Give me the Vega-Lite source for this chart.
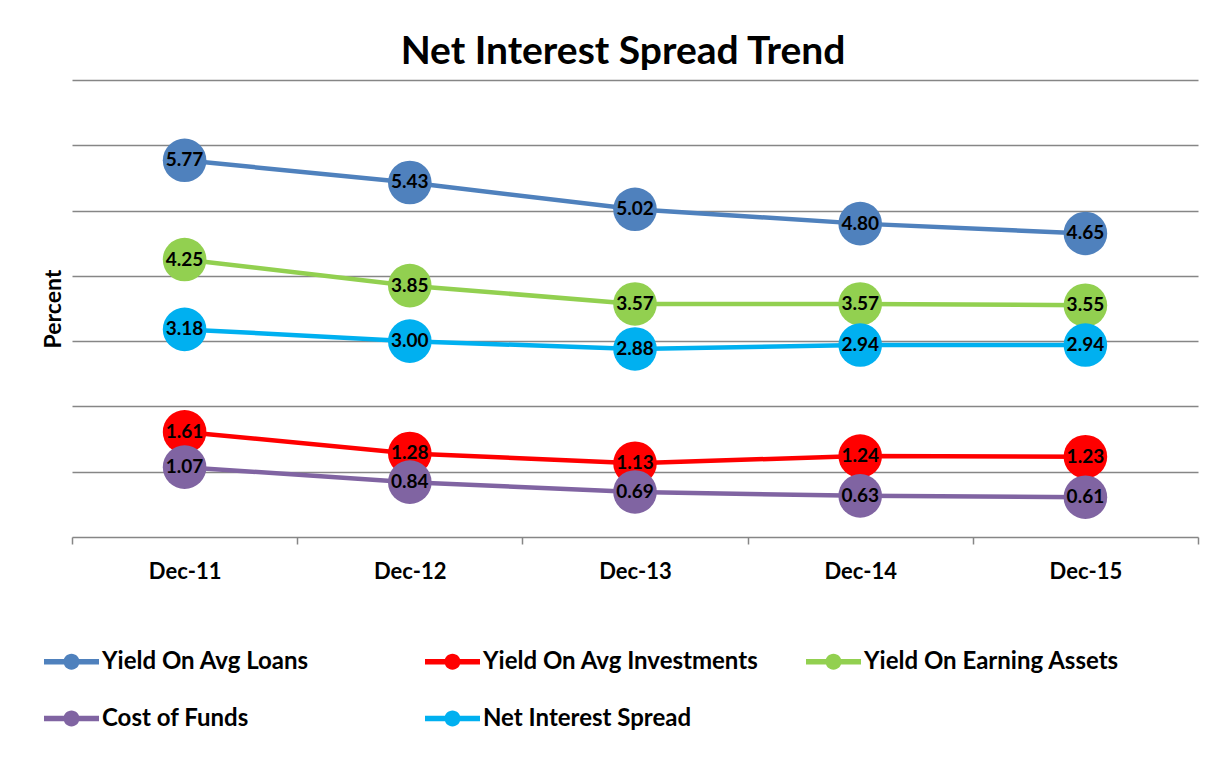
{
  "$schema": "https://vega.github.io/schema/vega-lite/v6.json",
  "autosize": {"type": "none"},
  "width": 1126,
  "height": 457,
  "padding": {"left": 72, "top": 80, "right": 26, "bottom": 221},
  "background": "white",
  "config": {
    "font": "Lato",
    "view": {"stroke": null}
  },
  "title": {"text": "Net Interest Spread Trend", "fontSize": 39, "font": "Lato", "fontWeight": "bold", "color": "black", "offset": 8, "anchor": "middle", "dx": -12},
  "data": {"values": [
    {"period": "Dec-11", "series": "Yield On Avg Loans", "value": 5.77},
    {"period": "Dec-12", "series": "Yield On Avg Loans", "value": 5.43},
    {"period": "Dec-13", "series": "Yield On Avg Loans", "value": 5.02},
    {"period": "Dec-14", "series": "Yield On Avg Loans", "value": 4.80},
    {"period": "Dec-15", "series": "Yield On Avg Loans", "value": 4.65},
    {"period": "Dec-11", "series": "Yield On Avg Investments", "value": 1.61},
    {"period": "Dec-12", "series": "Yield On Avg Investments", "value": 1.28},
    {"period": "Dec-13", "series": "Yield On Avg Investments", "value": 1.13},
    {"period": "Dec-14", "series": "Yield On Avg Investments", "value": 1.24},
    {"period": "Dec-15", "series": "Yield On Avg Investments", "value": 1.23},
    {"period": "Dec-11", "series": "Yield On Earning Assets", "value": 4.25},
    {"period": "Dec-12", "series": "Yield On Earning Assets", "value": 3.85},
    {"period": "Dec-13", "series": "Yield On Earning Assets", "value": 3.57},
    {"period": "Dec-14", "series": "Yield On Earning Assets", "value": 3.57},
    {"period": "Dec-15", "series": "Yield On Earning Assets", "value": 3.55},
    {"period": "Dec-11", "series": "Cost of Funds", "value": 1.07},
    {"period": "Dec-12", "series": "Cost of Funds", "value": 0.84},
    {"period": "Dec-13", "series": "Cost of Funds", "value": 0.69},
    {"period": "Dec-14", "series": "Cost of Funds", "value": 0.63},
    {"period": "Dec-15", "series": "Cost of Funds", "value": 0.61},
    {"period": "Dec-11", "series": "Net Interest Spread", "value": 3.18},
    {"period": "Dec-12", "series": "Net Interest Spread", "value": 3.00},
    {"period": "Dec-13", "series": "Net Interest Spread", "value": 2.88},
    {"period": "Dec-14", "series": "Net Interest Spread", "value": 2.94},
    {"period": "Dec-15", "series": "Net Interest Spread", "value": 2.94}
  ]},
  "encoding": {
    "x": {
      "field": "period", "type": "nominal", "sort": null,
      "scale": {"type": "band", "paddingInner": 0, "paddingOuter": 0},
      "axis": {
        "title": null, "labelAngle": 0, "tickBand": "extent",
        "labelFont": "Lato", "labelFontWeight": "bold", "labelFontSize": 22, "labelColor": "black",
        "labelPadding": 17, "tickSize": 7, "tickColor": "#868686", "domainColor": "#868686", "domainWidth": 1.5, "tickWidth": 1.5,
        "grid": false
      }
    },
    "y": {
      "field": "value", "type": "quantitative",
      "scale": {"domain": [0, 7], "nice": false},
      "axis": {
        "title": "Percent", "titleFont": "Lato", "titleFontWeight": "bold", "titleFontSize": 23, "titleColor": "black",
        "titlePadding": 7,
        "values": [1, 2, 3, 4, 5, 6, 7], "labels": false, "ticks": false, "domain": false,
        "grid": true, "gridColor": "#868686", "gridWidth": 1.5
      }
    },
    "color": {
      "field": "series", "type": "nominal",
      "scale": {
        "domain": ["Yield On Avg Loans", "Yield On Avg Investments", "Yield On Earning Assets", "Cost of Funds", "Net Interest Spread"],
        "range": ["#4F81BD", "#FF0000", "#92D050", "#8064A2", "#00B0F0"]
      },
      "legend": {
        "title": null, "orient": "none", "legendX": -28, "legendY": 554, "direction": "horizontal", "columns": 3,
        "gridAlign": "all", "columnPadding": 47, "rowPadding": 17,
        "symbolType": "M-1,-0.1H-0.26V0.1H-1Z M0.26,-0.1H1V0.1H0.26Z M0.29,0A0.29,0.29,0,1,1,-0.29,0A0.29,0.29,0,1,1,0.29,0Z",
        "symbolSize": 3025, "symbolStrokeWidth": 0, "symbolOpacity": 1,
        "labelFont": "Lato", "labelFontWeight": "bold", "labelFontSize": 24, "labelColor": "black", "labelOffset": 3, "labelLimit": 400,
        "encode": {"symbols": {"update": {"fill": {"scale": "color", "field": "value"}, "stroke": {"value": "transparent"}, "opacity": {"value": 1}}}}
      }
    }
  },
  "layer": [
    {"mark": {"type": "line", "strokeWidth": 4.5}},
    {"mark": {"type": "point", "filled": true, "size": 1900, "opacity": 1, "shape": "circle"}},
    {"mark": {"type": "text", "font": "Lato", "fontWeight": "bold", "fontSize": 19, "color": "black", "align": "center", "baseline": "middle"},
     "encoding": {"text": {"field": "value", "type": "quantitative", "format": ".2f"}, "color": {"value": "black"}}}
  ]
}
